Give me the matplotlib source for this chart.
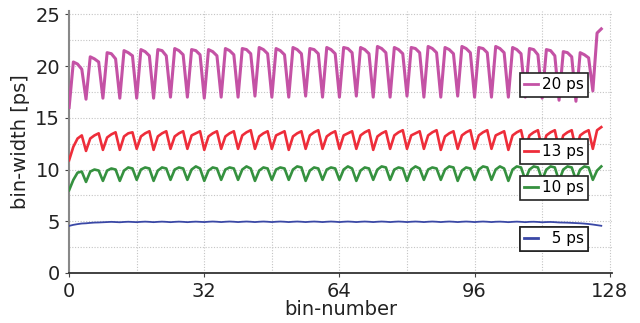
import matplotlib
matplotlib.use("Agg")
import matplotlib.pyplot as plt
from matplotlib.lines import Line2D

bins = list(range(127))

w20 = [16.0, 20.4, 20.2, 19.7,
       16.8, 20.9, 20.7, 20.4,
       16.9, 21.3, 21.2, 20.7,
       16.9, 21.5, 21.3, 21.0,
       16.9, 21.6, 21.4, 21.0,
       16.9, 21.6, 21.5, 21.0,
       17.0, 21.7, 21.5, 21.1,
       17.0, 21.6, 21.5, 21.1,
       16.9, 21.6, 21.4, 21.0,
       17.0, 21.7, 21.5, 21.1,
       17.0, 21.7, 21.6, 21.2,
       17.1, 21.8, 21.6, 21.2,
       17.0, 21.7, 21.5, 21.1,
       17.0, 21.8, 21.6, 21.2,
       17.1, 21.7, 21.6, 21.2,
       17.0, 21.8, 21.6, 21.2,
       17.0, 21.8, 21.7, 21.3,
       17.1, 21.8, 21.6, 21.2,
       17.0, 21.9, 21.7, 21.3,
       17.0, 21.8, 21.6, 21.2,
       17.1, 21.8, 21.7, 21.3,
       17.0, 21.9, 21.7, 21.3,
       17.0, 21.8, 21.6, 21.2,
       17.1, 21.9, 21.7, 21.3,
       17.0, 21.8, 21.7, 21.3,
       17.0, 21.9, 21.7, 21.3,
       17.0, 21.8, 21.6, 21.2,
       17.0, 21.7, 21.6, 21.1,
       16.9, 21.6, 21.5, 21.0,
       16.7, 21.4, 21.3, 20.9,
       16.6, 21.3, 21.1, 20.8,
       17.6, 23.2, 23.6]

w13 = [10.9, 12.2, 13.0, 13.3,
       11.8, 13.0, 13.3, 13.5,
       11.9, 13.1, 13.4, 13.6,
       11.9, 13.2, 13.5, 13.6,
       12.0, 13.2, 13.5, 13.7,
       11.9, 13.2, 13.5, 13.7,
       12.0, 13.2, 13.5, 13.7,
       12.0, 13.3, 13.5, 13.7,
       11.9, 13.2, 13.5, 13.7,
       12.0, 13.2, 13.5, 13.7,
       12.0, 13.3, 13.6, 13.8,
       12.0, 13.2, 13.5, 13.7,
       12.0, 13.3, 13.5, 13.7,
       11.9, 13.2, 13.5, 13.7,
       12.0, 13.3, 13.6, 13.8,
       12.0, 13.2, 13.5, 13.7,
       12.0, 13.3, 13.5, 13.7,
       12.0, 13.3, 13.6, 13.8,
       11.9, 13.2, 13.5, 13.7,
       12.0, 13.3, 13.6, 13.8,
       12.0, 13.3, 13.5, 13.7,
       12.0, 13.3, 13.6, 13.8,
       11.9, 13.2, 13.5, 13.7,
       12.0, 13.3, 13.6, 13.8,
       12.0, 13.3, 13.6, 13.8,
       12.0, 13.3, 13.5, 13.7,
       11.9, 13.3, 13.6, 13.8,
       12.0, 13.3, 13.6, 13.8,
       11.9, 13.3, 13.6, 13.8,
       11.9, 13.3, 13.6, 13.8,
       11.9, 13.3, 13.6, 13.8,
       12.0, 13.8, 14.1]

w10 = [8.0, 9.0, 9.7, 9.8,
       8.8, 9.8, 10.0, 9.9,
       8.9, 9.9, 10.1, 10.0,
       8.9, 9.9, 10.2, 10.1,
       9.0, 10.0, 10.2, 10.1,
       8.9, 9.9, 10.2, 10.1,
       9.0, 10.0, 10.2, 10.1,
       9.0, 10.0, 10.3, 10.1,
       8.9, 9.9, 10.2, 10.1,
       9.0, 10.0, 10.2, 10.1,
       9.0, 10.0, 10.3, 10.1,
       8.9, 9.9, 10.2, 10.1,
       9.0, 10.0, 10.2, 10.1,
       9.0, 10.0, 10.3, 10.2,
       8.9, 9.9, 10.2, 10.1,
       9.0, 10.0, 10.2, 10.1,
       9.0, 10.0, 10.3, 10.1,
       8.9, 9.9, 10.2, 10.1,
       9.0, 10.0, 10.3, 10.2,
       9.0, 10.0, 10.2, 10.1,
       8.9, 10.0, 10.3, 10.1,
       9.0, 10.0, 10.2, 10.1,
       9.0, 10.0, 10.3, 10.2,
       8.9, 9.9, 10.2, 10.1,
       9.0, 10.0, 10.3, 10.2,
       9.0, 10.0, 10.3, 10.1,
       8.9, 10.0, 10.3, 10.2,
       9.0, 10.0, 10.3, 10.2,
       9.0, 10.0, 10.3, 10.2,
       8.9, 10.0, 10.3, 10.2,
       9.0, 10.0, 10.3, 10.2,
       9.0, 9.9, 10.3]

w5 = [4.55, 4.65, 4.72, 4.78, 4.80, 4.84, 4.87, 4.88,
      4.90, 4.92, 4.94, 4.92, 4.90, 4.93, 4.95, 4.93,
      4.91, 4.94, 4.96, 4.94, 4.91, 4.94, 4.96, 4.94,
      4.91, 4.94, 4.96, 4.94, 4.91, 4.94, 4.96, 4.94,
      4.92, 4.95, 4.97, 4.95, 4.92, 4.95, 4.97, 4.95,
      4.92, 4.95, 4.97, 4.95, 4.92, 4.95, 4.97, 4.95,
      4.92, 4.95, 4.97, 4.95, 4.92, 4.95, 4.97, 4.95,
      4.92, 4.95, 4.97, 4.95, 4.92, 4.95, 4.97, 4.95,
      4.92, 4.95, 4.97, 4.95, 4.92, 4.95, 4.97, 4.95,
      4.92, 4.95, 4.97, 4.95, 4.92, 4.95, 4.97, 4.95,
      4.92, 4.95, 4.97, 4.95, 4.92, 4.95, 4.97, 4.95,
      4.92, 4.95, 4.97, 4.95, 4.92, 4.95, 4.97, 4.95,
      4.92, 4.95, 4.97, 4.95, 4.92, 4.95, 4.96, 4.94,
      4.91, 4.94, 4.96, 4.94, 4.91, 4.94, 4.95, 4.93,
      4.90, 4.92, 4.93, 4.91, 4.88, 4.87, 4.86, 4.84,
      4.82, 4.80, 4.77, 4.73, 4.68, 4.62, 4.56]

series = [
    ("20 ps", w20, "#c452a5", 2.2, 18.2),
    ("13 ps", w13, "#ee2d3a", 1.9, 11.75),
    ("10 ps", w10, "#35913f", 1.9, 8.25),
    ("\u20075 ps", w5, "#3a48a6", 1.3, 3.3),
]

xticks = [0, 32, 64, 96, 128]
yticks = [0, 5, 10, 15, 20, 25]

plt.rcParams['font.family'] = ['DejaVu Sans']
fig = plt.figure(figsize=(6.4, 3.23), dpi=100)
ax = fig.add_axes([0.108, 0.155, 0.848, 0.81])

for label, vals, color, lw, ly in series:
    ax.plot(bins, vals, color=color, lw=lw, zorder=3)
    h = Line2D([], [], color=color, lw=2.0)
    leg = ax.legend([h], [label], loc='center', bbox_to_anchor=(114.8, ly),
                    bbox_transform=ax.transData, frameon=True, fancybox=False,
                    edgecolor='#222222', framealpha=1.0, fontsize=11,
                    handlelength=0.9, handletextpad=0.25, borderpad=0.3,
                    borderaxespad=0)
    leg.get_frame().set_linewidth(1.2)
    leg.set_zorder(5)
    ax.add_artist(leg)

ax.set_xlim(0, 128.5)
ax.set_ylim(0, 25.3)
ax.set_xticks(xticks)
ax.set_yticks(yticks)
ax.set_xticks(list(range(0, 129, 16)), minor=True)
ax.set_yticks([i * 2.5 for i in range(11)], minor=True)
ax.grid(True, which='both', linestyle=(0, (1, 1.5)), color='#c4c4c4', linewidth=0.8, zorder=0)
ax.tick_params(which='minor', length=0)
ax.tick_params(which='major', labelsize=14, length=3, color='#444444', labelcolor='#222222')

for s in ['top', 'right']:
    ax.spines[s].set_visible(False)
ax.spines['left'].set_color('#888888')
ax.spines['left'].set_linewidth(1.5)
ax.spines['bottom'].set_color('#333333')
ax.spines['bottom'].set_linewidth(1.3)

ax.set_xlabel('bin-number', fontsize=14, labelpad=-1, color='#222222')
ax.set_ylabel('bin-width [ps]', fontsize=14, labelpad=4, color='#222222')

fig.savefig('out.png', dpi=100)
